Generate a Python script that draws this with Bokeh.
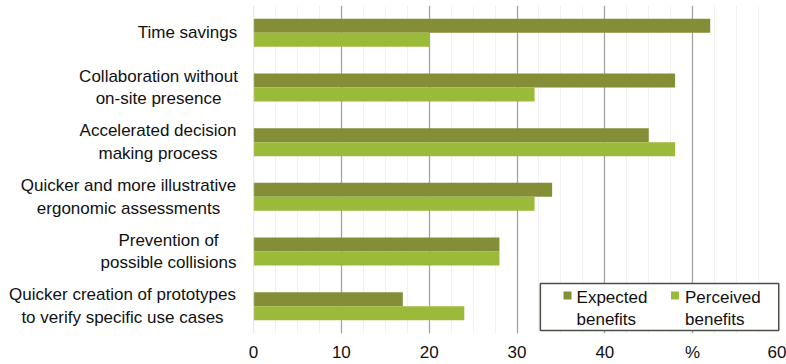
from bokeh.plotting import figure
from bokeh.layouts import row
from bokeh.models import FixedTicker, Range1d, Span, BoxAnnotation, ColumnDataSource
from bokeh.core.properties import value
from bokeh.embed import file_html
from bokeh.resources import INLINE

# Benefit categories, top to bottom
categories = [
    "Time savings",
    "Collaboration without\non-site presence",
    "Accelerated decision\nmaking process",
    "Quicker and more illustrative\nergonomic assessments",
    "Prevention of\npossible collisions",
    "Quicker creation of prototypes\nto verify specific use cases",
]
expected = [52, 48, 45, 34, 28, 17]
perceived = [20, 32, 48, 32, 28, 24]
series_names = ["Expected\nbenefits", "Perceived\nbenefits"]
x_ticks = [0, 10, 20, 30, 40, 50, 60]
x_tick_labels = {50: "%"}

EXP_COLOR = "#848E36"
PER_COLOR = "#9CBA3A"
TEXT_COLOR = "#111111"
FONT = "Liberation Sans"
FS = "17px"

n = len(categories)
pos = [n - 1 - i for i in range(n)]
bar_h = 0.256
y_range = Range1d(-0.5, n - 0.5)

src_exp = ColumnDataSource(dict(y=[q + bar_h / 2 for q in pos], right=expected))
src_per = ColumnDataSource(dict(y=[q - bar_h / 2 for q in pos], right=perceived))

LABEL_W = 241

# ---- main bar panel ----
p = figure(width=786 - LABEL_W, height=364, output_backend="svg", toolbar_location=None,
           x_range=Range1d(0, 60), y_range=y_range,
           min_border_left=12, min_border_right=6, min_border_top=5,
           min_border_bottom=31)
p.outline_line_color = None
p.border_fill_color = "white"

# grid: faint minor lines every 2.5, grey majors, pale line at zero
p.ygrid.visible = False
p.xgrid.ticker = FixedTicker(ticks=[t for t in x_ticks if t > 0],
                             minor_ticks=[v * 2.5 for v in range(1, 24) if v % 4])
p.xgrid.grid_line_color = "#A3A3A3"
p.xgrid.grid_line_width = 1.3
p.xgrid.minor_grid_line_color = "#F1F1F1"
p.xgrid.minor_grid_line_width = 1
p.add_layout(Span(location=0, dimension="height", line_color="#D6D6D6", line_width=1.3))

p.hbar(y="y", right="right", left=0, height=bar_h, source=src_exp,
       fill_color=EXP_COLOR, line_color=None)
p.hbar(y="y", right="right", left=0, height=bar_h, source=src_per,
       fill_color=PER_COLOR, line_color=None)

p.xaxis.ticker = FixedTicker(ticks=x_ticks)
p.xaxis.major_label_overrides = x_tick_labels
p.xaxis.axis_line_color = None
p.xaxis.major_tick_line_color = None
p.xaxis.major_tick_out = 0
p.xaxis.major_tick_in = 0
p.xaxis.minor_tick_line_color = None
p.xaxis.minor_tick_out = 0
p.xaxis.major_label_text_font = FONT
p.xaxis.major_label_text_font_size = FS
p.xaxis.major_label_text_color = TEXT_COLOR
p.xaxis.major_label_standoff = 9
p.yaxis.visible = False

# legend box in the lower right corner of the panel
p.add_layout(BoxAnnotation(left=32.66, right=59.8, bottom=-0.445, top=0.415,
                           fill_color="white", fill_alpha=1,
                           line_color="#4A4F45", line_alpha=1, line_width=1.5))
legend_src = ColumnDataSource(dict(mx=[35.75, 47.99], tx=[36.78, 49.13],
                                   color=[EXP_COLOR, PER_COLOR], label=series_names))
p.scatter(x="mx", y=0.195, source=legend_src, marker="square", size=8,
          fill_color="color", line_color=None, level="overlay")
p.text(x="tx", y=0.34, text="label", source=legend_src, text_align="left",
       text_baseline="top", text_font=value(FONT), text_font_size=FS,
       text_color=TEXT_COLOR, text_line_height=1.18, level="overlay")

# ---- category label panel ----
lab = figure(width=LABEL_W, height=364, output_backend="svg", toolbar_location=None,
             x_range=Range1d(0, LABEL_W), y_range=y_range,
             min_border_left=0, min_border_right=0, min_border_top=5,
             min_border_bottom=31)
lab.outline_line_color = None
lab.axis.visible = False
lab.grid.visible = False
label_src = ColumnDataSource(dict(x=[187, 158, 157.5, 128, 168, 122], y=pos,
                                  text=categories))
lab.text(x="x", y="y", text="text", source=label_src, text_align="center",
         text_baseline="middle", text_font=value(FONT), text_font_size=FS,
         text_color=TEXT_COLOR, text_line_height=1.18)

layout = row(lab, p, spacing=0)
open("out.html", "w").write(file_html(layout, INLINE))
